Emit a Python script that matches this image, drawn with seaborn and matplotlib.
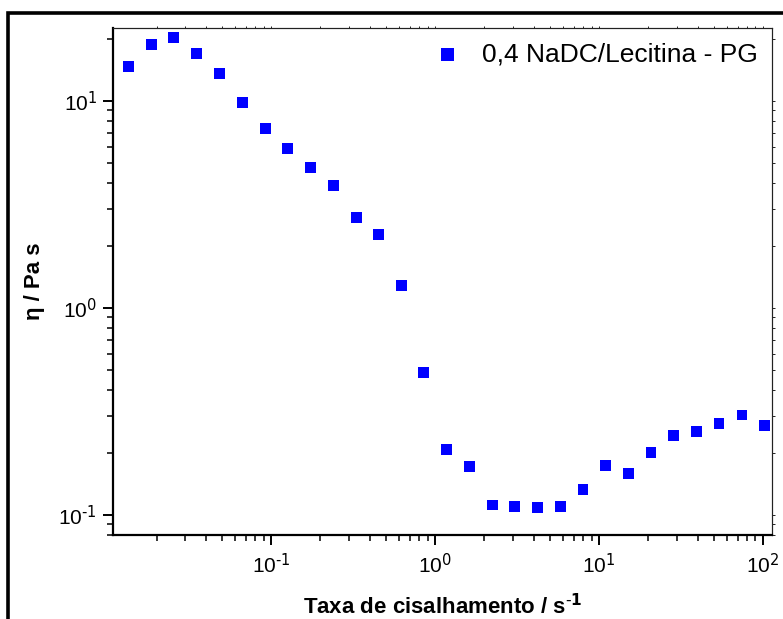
import matplotlib
matplotlib.use("Agg")
import matplotlib.pyplot as plt
import matplotlib.ticker as mticker
from matplotlib.patches import Rectangle
import seaborn as sns
import pandas as pd

shear_rate = [0.01356, 0.01862, 0.02551, 0.03524, 0.04842, 0.0668, 0.0919, 0.1265,
              0.1738, 0.2388, 0.3296, 0.4508, 0.621, 0.853, 1.178, 1.62, 2.227,
              3.06, 4.23, 5.81, 7.98, 10.99, 15.03, 20.75, 28.4, 39.2, 53.9, 74.5, 102.4]
viscosity = [14.7, 18.8, 20.3, 16.9, 13.6, 9.81, 7.32, 5.90, 4.79, 3.90, 2.74, 2.27,
             1.28, 0.487, 0.2075, 0.1706, 0.1117, 0.1093, 0.1084, 0.1096, 0.1321,
             0.1730, 0.1584, 0.1995, 0.241, 0.2535, 0.2754, 0.304, 0.270]
series_label = "0,4 NaDC/Lecitina - PG"
x_label = r"Taxa de cisalhamento / s$^{\mathbf{\text{-}1}}$"
y_label = "η / Pa s"

df = pd.DataFrame({"x": shear_rate, "y": viscosity})

sns.set_style("ticks")
plt.rcParams["font.family"] = ["Liberation Sans", "DejaVu Sans"]
plt.rcParams["mathtext.default"] = "regular"
plt.rcParams["text.color"] = "black"
plt.rcParams["axes.labelcolor"] = "black"
plt.rcParams["xtick.color"] = "black"
plt.rcParams["ytick.color"] = "black"
plt.rcParams["axes.unicode_minus"] = False


def log_fmt(val, pos):
    import math
    e = int(round(math.log10(val)))
    return r"$10^{\text{%d}}$" % e if e >= 0 else r"$10^{\text{-%d}}$" % (-e)


fig = plt.figure(figsize=(7.83, 6.19), dpi=100)
ax = fig.add_axes([113 / 783, 1 - 535 / 619, (772 - 113) / 783, (535 - 28) / 619])

sns.scatterplot(data=df, x="x", y="y", marker="s", color="#0000FF", s=62,
                edgecolor="none", linewidth=0, label=series_label, ax=ax)

ax.set_xscale("log")
ax.set_yscale("log")
ax.set_xlim(0.01085, 113.5)
ax.set_ylim(0.0800, 22.5)

ax.xaxis.set_major_locator(mticker.LogLocator(base=10, numticks=10))
ax.xaxis.set_minor_locator(mticker.LogLocator(base=10, subs=range(2, 10), numticks=20))
ax.yaxis.set_major_locator(mticker.LogLocator(base=10, numticks=10))
ax.yaxis.set_minor_locator(mticker.LogLocator(base=10, subs=range(2, 10), numticks=20))
ax.xaxis.set_major_formatter(mticker.FuncFormatter(log_fmt))
ax.yaxis.set_major_formatter(mticker.FuncFormatter(log_fmt))
ax.xaxis.set_minor_formatter(mticker.NullFormatter())
ax.yaxis.set_minor_formatter(mticker.NullFormatter())

for side in ["left", "bottom"]:
    ax.spines[side].set_linewidth(1.6)
    ax.spines[side].set_color("black")
for side in ["top", "right"]:
    ax.spines[side].set_visible(True)
    ax.spines[side].set_linewidth(0.8)
    ax.spines[side].set_color("#222222")

ax.tick_params(which="major", direction="out", length=7.5, width=1.4, labelsize=15,
               colors="black", pad=4)
ax.tick_params(which="minor", direction="out", length=4.5, width=1.1, colors="black")
ax.tick_params(axis="x", which="major", pad=5)

sec = ax.secondary_xaxis("top")
sec.tick_params(which="both", direction="out", length=1.8, width=0.6, labeltop=False)
sec.xaxis.set_minor_locator(mticker.LogLocator(base=10, subs=range(2, 10), numticks=20))
sec.xaxis.set_major_formatter(mticker.NullFormatter())
sec.xaxis.set_minor_formatter(mticker.NullFormatter())
sec.spines["top"].set_linewidth(0.8)
secy = ax.secondary_yaxis("right")
secy.tick_params(which="both", direction="out", length=1.8, width=0.6, labelright=False)
secy.yaxis.set_minor_locator(mticker.LogLocator(base=10, subs=range(2, 10), numticks=20))
secy.yaxis.set_major_formatter(mticker.NullFormatter())
secy.yaxis.set_minor_formatter(mticker.NullFormatter())
secy.spines["right"].set_linewidth(0.8)

ax.set_xlabel(x_label, fontsize=16, fontweight="bold", labelpad=12)
ax.set_ylabel(y_label, fontsize=16, fontweight="bold", labelpad=10)

ax.legend(loc="upper right", frameon=False, fontsize=19, markerscale=1.2,
          handletextpad=0.7, handlelength=1.2, borderaxespad=0.25, borderpad=0.3)

# outer frame
fig.add_artist(Rectangle((8 / 783, -0.1), 1.2, 1 - 13 / 619 + 0.1,
                         transform=fig.transFigure, fill=False,
                         edgecolor="black", linewidth=2.6, clip_on=False))

fig.savefig("out.png", dpi=100)
